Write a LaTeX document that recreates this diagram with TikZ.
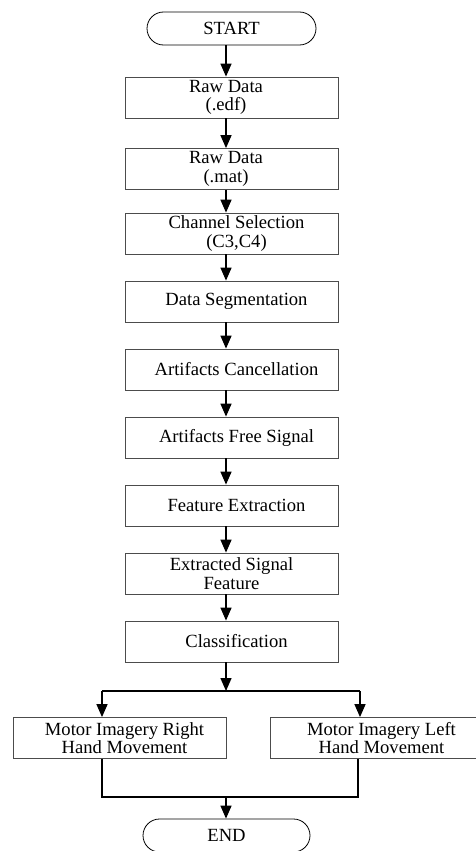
\documentclass[tikz,border=0pt]{standalone}
\usepackage{fontspec}
\setmainfont{Liberation Serif}
\usetikzlibrary{arrows.meta}
\newcommand\shR[1]{\rule{10pt}{0pt}#1}
\newcommand\shL[1]{#1\rule{11pt}{0pt}}
\begin{document}
\begin{tikzpicture}[x=1pt,y=-1pt,
  box/.style={draw=black!70, line width=0.8pt, minimum width=213pt, minimum height=41pt,
    inner sep=0pt, align=center, font=\fontsize{18.6}{18.5}\selectfont},
  term/.style={draw=black, line width=0.8pt, rounded corners=16.5pt, minimum width=169pt,
    minimum height=33pt, inner sep=0pt, font=\fontsize{18.6}{18.5}\selectfont},
  arr/.style={line width=1.4pt, -{Triangle[width=11pt,length=13pt]}},
  ln/.style={line width=1.4pt}]
\useasboundingbox (0,0) rectangle (475,851);
\node[term] (start) at (231.5,28.5) {START};
\node[box] (b1) at (231.5,97.5) {\shL{Raw Data}\\\shL{(.edf)}};
\node[box] (b2) at (231.5,169) {\shL{Raw Data}\\\shL{(.mat)}};
\node[box] (b3) at (231.5,233.5) {\shR{Channel Selection}\\\shR{(C3,C4)}};
\node[box] (b4) at (231.5,301.5) {\shR{Data Segmentation}};
\node[box] (b5) at (231.5,369.5) {\shR{Artifacts Cancellation}};
\node[box] (b6) at (231.5,437.5) {\shR{Artifacts Free Signal}};
\node[box] (b7) at (231.5,505.5) {\shR{Feature Extraction}};
\node[box] (b8) at (231.5,573.5) {Extracted Signal\\Feature};
\node[box] (b9) at (231.5,641.5) {\shR{Classification}};
\node[box] (lbox) at (119.5,738) {\shR{Motor Imagery Right}\\\shR{Hand Movement}};
\node[box] (rbox) at (376.5,738) {\shR{Motor Imagery Left}\\\shR{Hand Movement}};
\node[term, minimum width=167pt] (end) at (226.5,835.5) {END};
\coordinate (ax) at (226,0);
\coordinate (br) at (226,691);
\coordinate (bl) at (102,691);
\coordinate (brr) at (360,691);
\coordinate (jl) at (102,797);
\coordinate (jr) at (358,797);
\coordinate (jm) at (226,797);
\draw[arr] (start.south -| ax) -- (b1.north -| ax);
\draw[arr] (b1.south -| ax) -- (b2.north -| ax);
\draw[arr] (b2.south -| ax) -- (b3.north -| ax);
\draw[arr] (b3.south -| ax) -- (b4.north -| ax);
\draw[arr] (b4.south -| ax) -- (b5.north -| ax);
\draw[arr] (b5.south -| ax) -- (b6.north -| ax);
\draw[arr] (b6.south -| ax) -- (b7.north -| ax);
\draw[arr] (b7.south -| ax) -- (b8.north -| ax);
\draw[arr] (b8.south -| ax) -- (b9.north -| ax);
\draw[arr] (b9.south -| ax) -- (br);
\draw[ln] (bl) -- (brr);
\draw[arr] (bl) -- (lbox.north -| bl);
\draw[arr] (brr) -- (rbox.north -| brr);
\draw[ln] (lbox.south -| jl) -- (jl) -- (jr) -- (rbox.south -| jr);
\draw[arr] (jm) -- (end.north -| jm);
\end{tikzpicture}
\end{document}
